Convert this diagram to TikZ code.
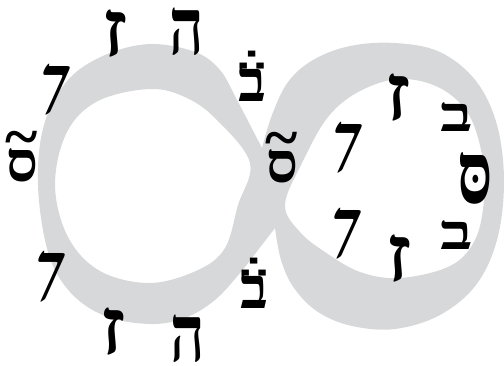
\documentclass[tikz,border=0pt]{standalone}
\usepackage{fontspec}
\usepackage{graphicx}
\newfontfamily\heb[Script=Hebrew]{Liberation Serif}
\newfontfamily\dv{DejaVu Sans}
\definecolor{band}{RGB}{215,216,218}
\newcommand\hebtilde[1]{\ooalign{#1\cr\hidewidth\raisebox{24pt}{\fontsize{62}{62}\selectfont\textasciitilde}\hidewidth\cr}}
\newcommand\hebdots[1]{\ooalign{#1\cr\hidewidth\raisebox{30pt}{\scalebox{1}[0.75]{\dv\bfseries\fontsize{42}{42}\selectfont ∴}}\hidewidth\cr}}
\begin{document}
\begin{tikzpicture}[x=1pt,y=-1pt,
  hebbase/.style={inner sep=0pt, text=black},
  glyph/.style={hebbase, font=\heb\bfseries\fontsize{60}{60}\selectfont, yscale=1.32},
  zayin/.style={glyph, xscale=1.6},
  kaf/.style={hebbase, font=\heb\bfseries\fontsize{62}{62}\selectfont, xslant=0.45, yscale=1.05},
  samekh/.style={hebbase, font=\heb\bfseries\fontsize{56}{56}\selectfont},
  betdots/.style={hebbase, font=\heb\bfseries\fontsize{58}{58}\selectfont},
  flatbet/.style={hebbase, font=\heb\bfseries\fontsize{68}{68}\selectfont, yscale=0.72},
  dagesh/.style={hebbase, font=\heb\bfseries\fontsize{62}{62}\selectfont, yscale=1.4}]
\useasboundingbox (0,0) rectangle (504,365);
% the infinity band
\fill[band, even odd rule]
  (262,148) -- plot[smooth, tension=0.6] coordinates {(262,148) (272,115) (288,82) (313,60) (350,46) (395,43) (440,52) (476,81) (497,125) (504,182) (497,240) (476,285) (440,315) (395,329) (352,326) (318,312) (294,288) (281,260) (275,228)}
  -- plot[smooth, tension=0.6] coordinates {(275,228) (258,250) (240,273) (215,300) (185,318) (150,324) (105,316) (70,292) (48,252) (38,185) (44,125) (68,80) (105,55) (150,44) (195,52) (220,70) (237,100) (262,148)}
  -- cycle
  plot[smooth cycle, tension=0.6] coordinates {(55,185) (67,132) (98,101) (150,89) (187,98) (218,121) (250,163) (238,205) (225,248) (198,270) (150,283) (100,271) (68,237)}
  plot[smooth cycle, tension=0.6] coordinates {(285,205) (302,163) (328,117) (360,91) (400,79) (440,88) (469,115) (483,160) (484,200) (475,240) (450,266) (400,278) (360,272) (325,252) (300,232)};
% letters round the left loop
\node[zayin] (z1) at (115,34) {ז};
\node[glyph] (h1) at (187,32) {ה};
\node[kaf] (k1) at (50,90) {ך};
\node[betdots] (b1) at (252,84) {\hebdots{ב}};
\node[samekh] (s1) at (22,165) {\hebtilde{ס}};
\node[samekh] (s2) at (282,166) {\hebtilde{ס}};
\node[kaf] (k2) at (45,277) {ך};
\node[zayin] (z2) at (113,332) {ז};
\node[glyph] (h2) at (188,339) {ה};
\node[betdots] (b2) at (254,291) {\hebdots{ב}};
% letters inside the right loop
\node[zayin] (z3) at (398,98) {ז};
\node[flatbet] (b3) at (457,117) {ב};
\node[kaf] (k3) at (342,148) {ך};
\node[dagesh] (sd) at (475,178) {סּ};
\node[kaf] (k4) at (341,234) {ך};
\node[zayin] (z4) at (399,259) {ז};
\node[flatbet] (b4) at (457,235) {ב};
\end{tikzpicture}
\end{document}
